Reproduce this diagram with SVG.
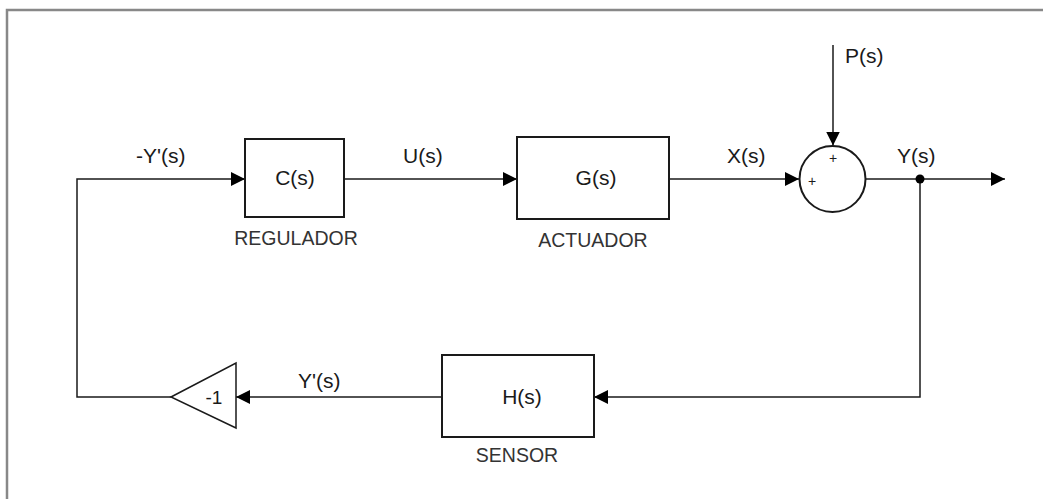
<svg xmlns="http://www.w3.org/2000/svg" width="1043" height="499" viewBox="0 0 1043 499">
<style>
  text { font-family: "Liberation Sans", Arial, sans-serif; fill: #1a1a1a; }
  .sig { font-size: 21px; }
  .box { fill: #fff; stroke: #1a1a1a; stroke-width: 2; }
  .lbl { font-size: 19.5px; fill: #333; text-anchor: middle; }
  .tf { font-size: 21px; text-anchor: middle; }
  .wire { fill: none; stroke: #1a1a1a; stroke-width: 1.5; }
  .sign { font-size: 14px; text-anchor: middle; }
</style>
<defs>
  <marker id="arr" viewBox="0 0 14 14" refX="14" refY="7" markerWidth="14" markerHeight="14" markerUnits="userSpaceOnUse" orient="auto">
    <path d="M0,0 L14,7 L0,14 Z" fill="#000"/>
  </marker>
</defs>
<rect width="1043" height="499" fill="#fff"/>
<path d="M7,499 V10 H1043" fill="none" stroke="#888" stroke-width="2.5"/>

<g id="connectors">
  <path class="wire" d="M171,397 H77 V179 H245" marker-end="url(#arr)"/>
  <path class="wire" d="M344,179 H517" marker-end="url(#arr)"/>
  <path class="wire" d="M669,179 H799" marker-end="url(#arr)"/>
  <path class="wire" d="M833,45 V145.5" marker-end="url(#arr)"/>
  <path class="wire" d="M866,179 H1005" marker-end="url(#arr)"/>
  <path class="wire" d="M920,179 V397 H594" marker-end="url(#arr)"/>
  <path class="wire" d="M442,397 H236" marker-end="url(#arr)"/>
  <circle cx="920" cy="179" r="4.5" fill="#000"/>
  <text class="sig" x="136" y="163">-Y'(s)</text>
  <text class="sig" x="403" y="163">U(s)</text>
  <text class="sig" x="727" y="163">X(s)</text>
  <text class="sig" x="897" y="163">Y(s)</text>
  <text class="sig" x="845" y="63">P(s)</text>
  <text class="sig" x="298" y="388">Y'(s)</text>
</g>

<g id="regulador">
  <rect class="box" x="245" y="139" width="99" height="78"/>
  <text class="tf" x="295" y="185">C(s)</text>
  <text class="lbl" x="296" y="245">REGULADOR</text>
</g>

<g id="actuador">
  <rect class="box" x="517" y="137" width="152" height="82"/>
  <text class="tf" x="596" y="185">G(s)</text>
  <text class="lbl" x="593" y="247">ACTUADOR</text>
</g>

<g id="sumador">
  <circle cx="832.5" cy="179" r="33" fill="#fff" stroke="#1a1a1a" stroke-width="2"/>
  <text class="sign" x="833" y="163">+</text>
  <text class="sign" x="812" y="186">+</text>
</g>

<g id="sensor">
  <rect class="box" x="442" y="355" width="152" height="82"/>
  <text class="tf" x="522" y="404">H(s)</text>
  <text class="lbl" x="517" y="462">SENSOR</text>
</g>

<g id="ganancia">
  <polygon points="171,397 236,363 236,428" fill="#fff" stroke="#1a1a1a" stroke-width="1.5"/>
  <text class="tf" x="214" y="404" style="font-size:19px">-1</text>
</g>
</svg>
